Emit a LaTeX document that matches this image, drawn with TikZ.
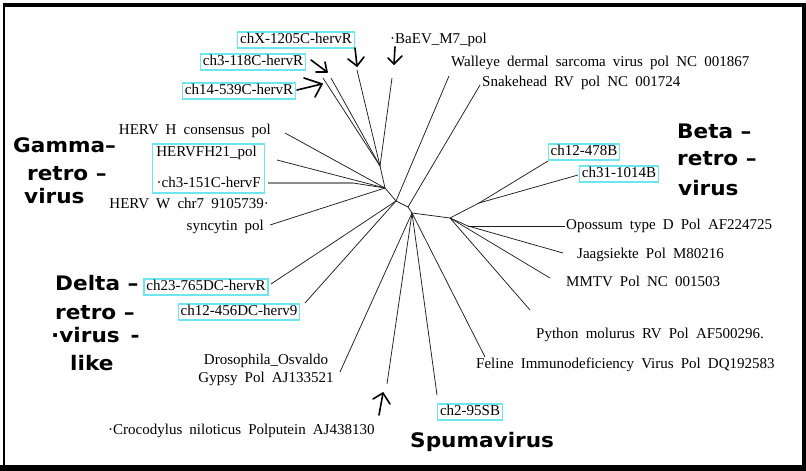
\documentclass[tikz,border=0pt]{standalone}
\usepackage{fontspec}
\setmainfont{Liberation Serif}[WordSpace=1.9]
\newfontfamily\bigfont{DejaVu Sans}[FakeStretch=1.08]
\usetikzlibrary{fit}
\definecolor{boxcyan}{RGB}{110,230,240}
\definecolor{branchgray}{RGB}{30,30,30}
\definecolor{thickgray}{RGB}{140,140,140}
\begin{document}
\begin{tikzpicture}[x=1pt,y=-1pt,
  lbl/.style={font=\fontsize{15}{18}\selectfont, inner sep=0pt, text height=10.5pt, text depth=3pt},
  cbox/.style={lbl, draw=boxcyan, line width=1.2pt, fill=white, inner xsep=2.5pt, inner ysep=1.3pt},
  big/.style={font=\bigfont\bfseries\fontsize{20}{24}\selectfont, inner sep=0pt, anchor=base west},
  branch/.style={draw=branchgray, line width=0.75pt},
  grayline/.style={draw=thickgray, line width=2.4pt},
  hand/.style={draw=black, line width=1.6pt, line cap=round, line join=round}]
\useasboundingbox (0,0) rectangle (806,471);
% frame
\fill[black] (3,3) rectangle (806,7);
\fill[black] (3,3) rectangle (5,471);
\fill[black] (802,3) rectangle (806,471);
\fill[black] (0,465) rectangle (806,471);

% hubs
\coordinate (hT) at (380,166);
\coordinate (hG) at (385,188);
\coordinate (hM) at (396,201);
\coordinate (hC) at (408,207);
\coordinate (hD) at (412,213);
\coordinate (hB) at (450,218);
\coordinate (hB2) at (479,203);
\coordinate (hO) at (468,226);

% leaf ends
\coordinate (lchX) at (357,70);
\coordinate (lBa) at (392,78);
\coordinate (l118) at (323,78);
\coordinate (l539) at (331,78);
\coordinate (lWal) at (449,76);
\coordinate (lSnk) at (480,85);
\coordinate (lHH) at (285,133);
\coordinate (lFH) at (277,160);
\coordinate (l151a) at (268,183);
\coordinate (l151b) at (353,183);
\coordinate (lW) at (270,225);
\coordinate (l765) at (271,284);
\coordinate (l456) at (305,303);
\coordinate (lDro) at (340,372);
\coordinate (lCro) at (387,384);
\coordinate (l95) at (437,395);
\coordinate (lFel) at (485,357);
\coordinate (lPy) at (530,310);
\coordinate (lMM) at (550,278);
\coordinate (lJa) at (563,253);
\coordinate (lOp) at (565,226);
\coordinate (l478) at (548,161);
\coordinate (l1014) at (578,175);

% tree branches
\draw[branch] (lchX) -- (hT);
\draw[branch] (lBa) -- (hT);
\draw[branch] (l118) -- (hT);
\draw[branch] (l539) -- (hT);
\draw[branch] (hT) -- (hG);
\draw[branch] (lHH) -- (hG);
\draw[branch] (lFH) -- (hG);
\draw[grayline] (l151a) -- (l151b);
\draw[branch] (l151b) -- (hG);
\draw[branch] (lW) -- (hG);
\draw[branch] (hG) -- (hM);
\draw[branch] (l765) -- (hM);
\draw[branch] (l456) -- (hM);
\draw[branch] (lWal) -- (hM);
\draw[branch] (hM) -- (hC);
\draw[branch] (lSnk) -- (hC);
\draw[branch] (hC) -- (hD);
\draw[branch] (lDro) -- (hD);
\draw[branch] (lCro) -- (hD);
\draw[branch] (l95) -- (hD);
\draw[branch] (lFel) -- (hD);
\draw[branch] (hD) -- (hB);
\draw[branch] (hB) -- (hB2);
\draw[branch] (hB2) -- (l478);
\draw[branch] (hB2) -- (l1014);
\draw[branch] (hB) -- (lPy);
\draw[branch] (hB) -- (lMM);
\draw[branch] (hB) -- (hO);
\draw[branch] (hO) -- (lOp);
\draw[branch] (hO) -- (lJa);

% labels
\node[cbox] (tchX) at (296,40) {chX-1205C-hervR};
\node[cbox] (t118) at (253,62) {ch3-118C-hervR};
\node[cbox] (t539) at (239,91) {ch14-539C-hervR};
\node[lbl, anchor=west] (tBa) at (390,40) {·BaEV\_M7\_pol};
\node[lbl, anchor=west] (tWal) at (451,63) {Walleye dermal sarcoma virus pol NC 001867};
\node[lbl, anchor=west] (tSnk) at (482,83) {Snakehead RV pol NC 001724};
\node[lbl, anchor=east] (tHH) at (271,131) {HERV H consensus pol};
\node[lbl, anchor=east] (tFH) at (257,153) {HERVFH21\_pol};
\node[lbl, anchor=east] (t151) at (261,184) {·ch3-151C-hervF};
\node[draw=boxcyan, line width=1.2pt, fit=(tFH)(t151), inner xsep=3.5pt, inner ysep=2pt] (bFH) {};
\node[lbl, anchor=north east, align=right] (tW) at (269,220) {HERV W chr7 9105739·\\[4pt]syncytin pol\,\,};
\node[cbox] (t765) at (206,287) {ch23-765DC-hervR};
\node[cbox] (t456) at (239,312) {ch12-456DC-herv9};
\node[lbl, anchor=north, align=center] (tDro) at (266,372) {Drosophila\_Osvaldo\\Gypsy Pol AJ133521};
\node[lbl, anchor=west] (tCro) at (108,431) {·Crocodylus niloticus Polputein AJ438130};
\node[cbox] (t478) at (584,152) {ch12-478B};
\node[cbox] (t1014) at (619,174) {ch31-1014B};
\node[lbl, anchor=west] (tOp) at (566,226) {Opossum type D Pol AF224725};
\node[lbl, anchor=west] (tJa) at (577,255) {Jaagsiekte Pol M80216};
\node[lbl, anchor=west] (tMM) at (566,283) {MMTV Pol NC 001503};
\node[lbl, anchor=west] (tPy) at (536,335) {Python molurus RV Pol AF500296.};
\node[lbl, anchor=west] (tFel) at (476,365) {Feline Immunodeficiency Virus Pol DQ192583};
\node[cbox] (t95) at (470,412) {ch2-95SB};

% group names
\node[big] (g1) at (13,152) {Gamma–};
\node[big] (g2) at (27,180) {retro –};
\node[big] (g3) at (24,203) {virus};
\node[big] (b1) at (677,138) {Beta –};
\node[big] (b2) at (677,165) {retro –};
\node[big] (b3) at (678,195) {virus};
\node[big] (d1) at (55,290) {Delta –};
\node[big] (d2) at (55,319) {retro –};
\node[big] (d3) at (51,342) {·virus \,-};
\node[big] (d4) at (70,370) {like};
\node[big] (s1) at (410,447) {Spumavirus};

% hand-drawn arrows
\coordinate (aXs) at (355,48); \coordinate (aXt) at (357,66);
\coordinate (aXw1) at (348,59); \coordinate (aXw2) at (364,57);
\draw[hand] (aXs) -- (aXt);
\draw[hand] (aXw1) -- (aXt) -- (aXw2);
\coordinate (aBs) at (395,47); \coordinate (aBt) at (394,64);
\coordinate (aBw1) at (388,58); \coordinate (aBw2) at (402,56);
\draw[hand] (aBs) -- (aBt);
\draw[hand] (aBw1) -- (aBt) -- (aBw2);
\coordinate (a3s) at (311,60); \coordinate (a3t) at (327,72);
\coordinate (a3w1) at (325,62); \coordinate (a3w2) at (316,72);
\draw[hand] (a3s) -- (a3t);
\draw[hand] (a3w1) -- (a3t) -- (a3w2);
\coordinate (a14s) at (297,90); \coordinate (a14t) at (322,84);
\coordinate (a14w1) at (304,78); \coordinate (a14w2) at (315,97);
\draw[hand] (a14s) -- (a14t);
\draw[hand] (a14w1) -- (a14t) -- (a14w2);
\coordinate (aCs) at (379,415); \coordinate (aCt) at (383,393);
\coordinate (aCw1) at (373,399); \coordinate (aCw2) at (390,404);
\draw[hand] (aCs) -- (aCt);
\draw[hand] (aCw1) -- (aCt) -- (aCw2);
\end{tikzpicture}
\end{document}
